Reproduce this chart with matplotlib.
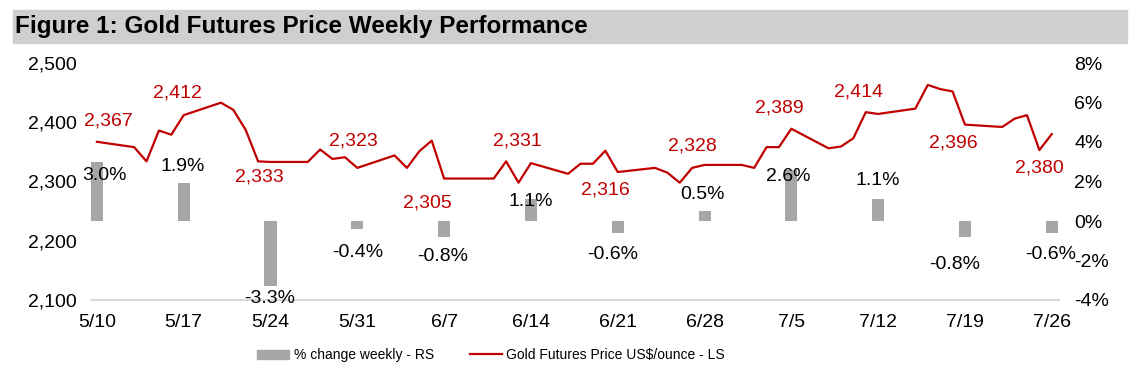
import pandas as pd
import matplotlib
matplotlib.use("Agg")
from matplotlib import pyplot as plt
from matplotlib.patches import Rectangle, Patch
from matplotlib.lines import Line2D
from matplotlib.ticker import FuncFormatter

plt.rcParams['font.family'] = ['Liberation Sans', 'DejaVu Sans']

############################ data ############################
days = ['2024-05-10', '2024-05-13', '2024-05-14', '2024-05-15', '2024-05-16', '2024-05-17',
        '2024-05-20', '2024-05-21', '2024-05-22', '2024-05-23', '2024-05-24',
        '2024-05-27', '2024-05-28', '2024-05-29', '2024-05-30', '2024-05-31',
        '2024-06-03', '2024-06-04', '2024-06-05', '2024-06-06', '2024-06-07',
        '2024-06-10', '2024-06-11', '2024-06-12', '2024-06-13', '2024-06-14',
        '2024-06-17', '2024-06-18', '2024-06-19', '2024-06-20', '2024-06-21',
        '2024-06-24', '2024-06-25', '2024-06-26', '2024-06-27', '2024-06-28',
        '2024-07-01', '2024-07-02', '2024-07-03', '2024-07-04', '2024-07-05',
        '2024-07-08', '2024-07-09', '2024-07-10', '2024-07-11', '2024-07-12',
        '2024-07-15', '2024-07-16', '2024-07-17', '2024-07-18', '2024-07-19',
        '2024-07-22', '2024-07-23', '2024-07-24', '2024-07-25', '2024-07-26']
price = [2367, 2358, 2334, 2386, 2379, 2412,
         2433, 2421, 2387, 2334, 2333,
         2333, 2354, 2338, 2341, 2323,
         2344, 2323, 2351, 2369, 2305,
         2305, 2305, 2334, 2298, 2331,
         2313, 2330, 2330, 2352, 2316,
         2323, 2315, 2298, 2323, 2328,
         2328, 2323, 2358, 2358, 2389,
         2356, 2359, 2373, 2417, 2414,
         2423, 2463, 2456, 2452, 2396,
         2392, 2406, 2412, 2353, 2380]

weeks = ['2024-05-10', '2024-05-17', '2024-05-24', '2024-05-31', '2024-06-07', '2024-06-14',
         '2024-06-21', '2024-06-28', '2024-07-05', '2024-07-12', '2024-07-19', '2024-07-26']
week_labels = ['5/10', '5/17', '5/24', '5/31', '6/7', '6/14',
               '6/21', '6/28', '7/5', '7/12', '7/19', '7/26']
pct_weekly = [3.0, 1.9, -3.3, -0.4, -0.8, 1.1, -0.6, 0.5, 2.6, 1.1, -0.8, -0.6]

days = pd.to_datetime(days)
weeks = pd.to_datetime(weeks)
close = pd.Series(price, index=days)

# label offsets in pixels (dx, dy), just to mimic the hand placed excel labels
price_lbl_off = [(11, 21), (-6, 22), (-11, -15), (-4, 27), (-17, -24), (-14, 22),
                 (-12, -18), (-12, 19), (-12, 21), (-20, 22), (-12, -18), (-12, -34)]
pct_lbl_off = [(8, -14), (-1, 17), (-1, -12), (0, -24), (-1, -20), (0, -2),
               (-5, -22), (-2, 17), (-3, -7), (0, 19), (-10, -28), (-1, -22)]

RED = '#C00000'
GREY = '#A6A6A6'
FS = 14

############################ figure ############################
fig = plt.figure(figsize=(11.35, 3.76), dpi=100)

# title band
fig.patches.append(Rectangle((13 / 1135, 1 - 43 / 376), 1114 / 1135, 33 / 376,
                             transform=fig.transFigure, color='#D0CECF', zorder=0))
fig.text(15 / 1135, 1 - 27 / 376, 'Figure 1: Gold Futures Price Weekly Performance',
         fontsize=17.5, fontweight='bold', va='center', ha='left')

axb = fig.add_axes([90.7 / 1135, 1 - 300 / 376, (1059 - 90.7) / 1135, 237 / 376])
axl = axb.twinx()

# bars (% change) on the right scale
axb.bar(weeks, pct_weekly, width=0.97, color=GREY, zorder=2)
axb.set_ylim(-4, 8)
axb.set_yticks([-4, -2, 0, 2, 4, 6, 8])
axb.yaxis.set_major_formatter(FuncFormatter(lambda v, p: '%d%%' % v))
axb.yaxis.tick_right()
for w, v, off in zip(weeks, pct_weekly, pct_lbl_off):
    axb.annotate('%.1f%%' % v, (w, v), xytext=off, textcoords='offset pixels',
                 ha='center', va='center', fontsize=FS, color='black')

# price line on the left scale
axl.plot(days, price, color=RED, linewidth=1.6, zorder=3)
axl.set_ylim(2100, 2500)
axl.set_yticks([2100, 2200, 2300, 2400, 2500])
axl.yaxis.set_major_formatter(FuncFormatter(lambda v, p: '{:,.0f}'.format(v)))
axl.yaxis.tick_left()
for w, off in zip(weeks, price_lbl_off):
    axl.annotate('{:,.0f}'.format(close[w]), (w, close[w]), xytext=off,
                 textcoords='offset pixels', ha='center', va='center',
                 fontsize=FS, color=RED)

axb.set_xlim(weeks[0] - pd.Timedelta(hours=12), weeks[-1] + pd.Timedelta(hours=14))
axb.set_xticks(weeks)
axb.set_xticklabels(week_labels)

for a in (axb, axl):
    for s in a.spines.values():
        s.set_visible(False)
    a.tick_params(axis='both', length=0, labelsize=FS)
axb.tick_params(axis='x', pad=10)
axb.tick_params(axis='y', pad=11)
axl.tick_params(axis='y', pad=10)
axb.spines['bottom'].set_visible(True)
axb.spines['bottom'].set_color('#D9D9D9')
axb.spines['bottom'].set_linewidth(1.5)

handles = [Patch(color=GREY), Line2D([], [], color=RED, linewidth=1.6)]
fig.legend(handles, ['% change weekly - RS', 'Gold Futures Price US$/ounce - LS'],
           loc='center', bbox_to_anchor=(491 / 1135, 1 - 355 / 376), ncol=2,
           frameon=False, fontsize=10, handlelength=2.3, handleheight=0.6,
           handletextpad=0.3, columnspacing=2.6)

plt.savefig('out.png', dpi=100)
